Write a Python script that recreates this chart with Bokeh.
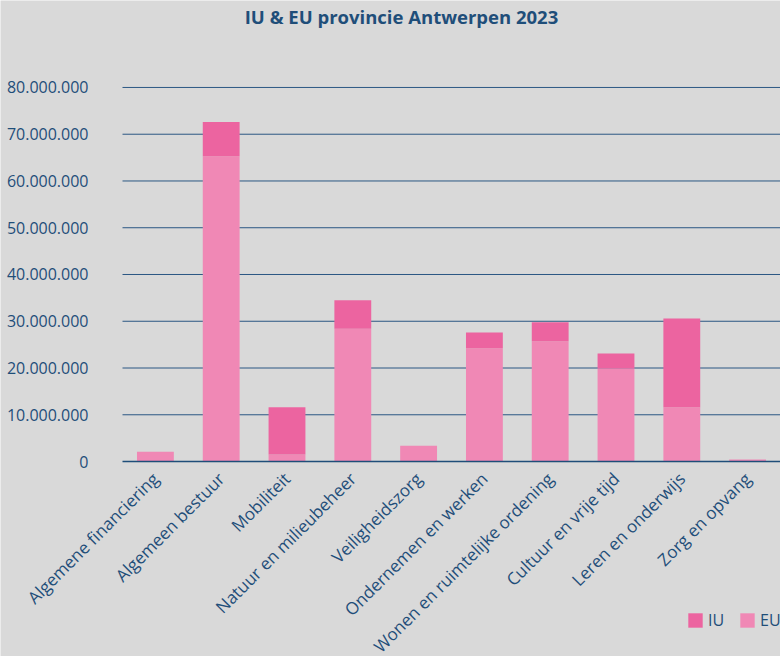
import math
from bokeh.plotting import figure
from bokeh.models import (ColumnDataSource, CustomJSTickFormatter, Legend, LegendItem, Range1d,
                          Label, FixedTicker)
from bokeh.embed import file_html
from bokeh.resources import INLINE

categories = ["Algemene financiering", "Algemeen bestuur", "Mobiliteit", "Natuur en milieubeheer",
              "Veiligheidszorg", "Ondernemen en werken", "Wonen en ruimtelijke ordening",
              "Cultuur en vrije tijd", "Leren en onderwijs", "Zorg en opvang"]
eu = [2.1e6, 65.3e6, 1.5e6, 28.4e6, 3.4e6, 24.2e6, 25.7e6, 19.9e6, 11.6e6, 0.45e6]
iu = [0.0, 7.3e6, 10.1e6, 6.1e6, 0.0, 3.4e6, 4.1e6, 3.2e6, 19.0e6, 0.0]
y_ticks = [0, 10e6, 20e6, 30e6, 40e6, 50e6, 60e6, 70e6, 80e6]
title_text = "IU & EU provincie Antwerpen 2023"

TXT = "#1F4E79"
BG = "#D9D9D9"
FONT = "Open Sans"

idx = list(range(len(categories)))
n = len(categories)
src = ColumnDataSource(dict(x=idx, cat=categories, EU=eu, IU=iu))

# plot area: categories occupy px 122..780; the frame covers the whole figure so
# the rotated labels and the legend below the axis are not clipped
left_units = 122 / 65.8
x_lo = -0.5 - left_units
x_hi = n - 0.5
y_lo, y_hi = -41.7e6, 98.6e6

p = figure(x_range=Range1d(x_lo, x_hi), y_range=Range1d(y_lo, y_hi),
           width=780, height=656, output_backend="svg", toolbar_location=None,
           min_border_left=0, min_border_right=0, min_border_top=0, min_border_bottom=0)
p.background_fill_color = BG
p.border_fill_color = BG
p.outline_line_color = None
p.xgrid.visible = False
p.ygrid.visible = False

# horizontal grid lines at the y ticks, from the left end of the category area
gsrc = ColumnDataSource(dict(y=y_ticks[1:], x0=[-0.5] * (len(y_ticks) - 1), x1=[x_hi] * (len(y_ticks) - 1)))
p.segment(x0="x0", y0="y", x1="x1", y1="y", source=gsrc, line_color="#2B5783", line_width=1)

r = p.vbar_stack(["EU", "IU"], x="x", width=0.56, source=src,
                 color=["#F088B5", "#EC64A0"], line_color=None)

p.yaxis.fixed_location = -0.5
p.yaxis.bounds = (0, 80e6)
p.yaxis.ticker = FixedTicker(ticks=y_ticks)
p.yaxis.formatter = CustomJSTickFormatter(code="""
return Math.round(tick).toString().replace(/\\B(?=(\\d{3})+(?!\\d))/g, '.');
""")
p.yaxis.axis_line_color = None
p.yaxis.major_tick_line_color = None
p.yaxis.minor_tick_line_color = None
p.yaxis.major_label_text_font = FONT
p.yaxis.major_label_text_font_size = "16px"
p.yaxis.major_label_text_color = TXT
p.yaxis.major_label_standoff = 28

p.xaxis.fixed_location = 0
p.xaxis.bounds = (-0.5, x_hi)
p.xaxis.ticker = FixedTicker(ticks=idx)
p.xaxis.major_label_overrides = {i: c for i, c in zip(idx, categories)}
p.xaxis.axis_line_color = TXT
p.xaxis.axis_line_width = 1.5
p.xaxis.major_tick_line_color = None
p.xaxis.minor_tick_line_color = None
p.xaxis.major_label_orientation = math.pi / 4
p.xaxis.major_label_text_font = FONT
p.xaxis.major_label_text_font_size = "17px"
p.xaxis.major_label_text_color = TXT
p.xaxis.major_label_standoff = 8

p.add_layout(Label(x=3.74, y=95.2e6, text=title_text, text_align="center", text_baseline="alphabetic",
                   text_font=FONT, text_font_size="18.5px", text_font_style="bold", text_color=TXT))

legend = Legend(items=[LegendItem(label="IU", renderers=[r[1]]), LegendItem(label="EU", renderers=[r[0]])],
                orientation="horizontal", location=(686, 25),
                background_fill_alpha=0, border_line_color=None,
                label_text_font=FONT, label_text_font_size="16px", label_text_color=TXT,
                glyph_width=18, glyph_height=18, spacing=10, label_standoff=4,
                margin=0, padding=0)
p.add_layout(legend, "center")

open("out.html", "w").write(file_html(p, INLINE))
